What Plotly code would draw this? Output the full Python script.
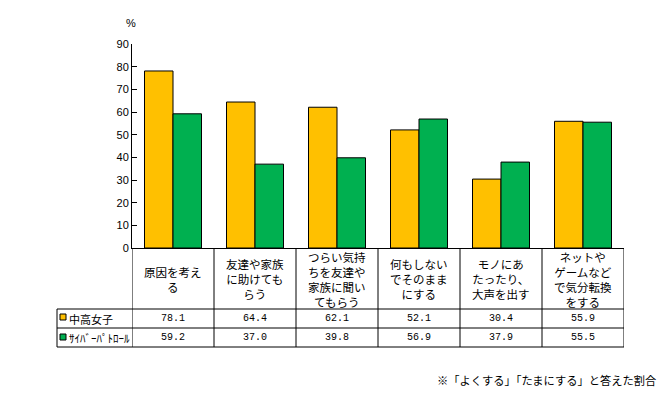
import plotly.graph_objects as go

# ---- data ----
categories = ["原因を考える", "友達や家族に助けてもらう", "つらい気持ちを友達や家族に聞いてもらう",
              "何もしないでそのままにする", "モノにあたったり、大声を出す", "ネットやゲームなどで気分転換をする"]
category_lines = [
    ["原因を考え", "る"],
    ["友達や家族", "に助けても", "らう"],
    ["つらい気持", "ちを友達や", "家族に聞い", "てもらう"],
    ["何もしない", "でそのまま", "にする"],
    ["モノにあ", "たったり、", "大声を出す"],
    ["ネットや", "ゲームなど", "で気分転換", "をする"],
]
series_names = ["中高女子", "ｻｲﾊﾞｰﾊﾟﾄﾛｰﾙ"]
values_girls = [78.1, 64.4, 62.1, 52.1, 30.4, 55.9]
values_patrol = [59.2, 37.0, 39.8, 56.9, 37.9, 55.5]
y_ticks = [0, 10, 20, 30, 40, 50, 60, 70, 80, 90]
footnote = "※「よくする」「たまにする」と答えた割合"
unit_label = "%"

colors = ["#FFC000", "#00B050"]

# ---- layout geometry (pixels) ----
W, H = 665, 396
L, R, T, B = 132, 624, 44, 248
PW, PH = R - L, B - T


def px(x):
    return (x - L) / PW


def py(y):
    return (B - y) / PH


JP = "Noto Sans CJK JP"
MONO = "Liberation Mono"

fig = go.Figure()
for name, vals, c in zip(series_names, [values_girls, values_patrol], colors):
    fig.add_trace(go.Bar(
        x=categories, y=vals, name=name,
        marker=dict(color=c, line=dict(color="black", width=1)),
        showlegend=False, hoverinfo="skip",
    ))

shapes = []
row_top, row1, row2, row3 = 248, 309, 328, 347
# column boundaries
for i in range(len(categories) + 1):
    shapes.append(dict(type="line", xref="x", yref="paper",
                       x0=i - 0.5, x1=i - 0.5, y0=py(row_top), y1=py(row3),
                       line=dict(color="black", width=1)))
# label column left border
shapes.append(dict(type="line", xref="paper", yref="paper",
                   x0=px(57), x1=px(57), y0=py(row1), y1=py(row3),
                   line=dict(color="black", width=1)))
# horizontal rows
for yy in (row1, row2, row3):
    shapes.append(dict(type="line", xref="paper", yref="paper",
                       x0=px(57), x1=px(R), y0=py(yy), y1=py(yy),
                       line=dict(color="black", width=1)))
# legend squares
for c, (y0, y1) in zip(colors, [(314, 320), (334, 340)]):
    shapes.append(dict(type="rect", xref="paper", yref="paper",
                       x0=px(60), x1=px(66), y0=py(y1), y1=py(y0),
                       fillcolor=c, line=dict(color="black", width=1)))

annotations = []
for cat, lines in zip(categories, category_lines):
    annotations.append(dict(x=cat, xref="x", y=py(279), yref="paper",
                            text="<br>".join(lines), showarrow=False,
                            xanchor="center", yanchor="middle", align="center",
                            font=dict(family=JP, size=11.5, color="black")))
for vals, yc in zip([values_girls, values_patrol], [318.5, 337.5]):
    for cat, v in zip(categories, vals):
        annotations.append(dict(x=cat, xref="x", y=py(yc), yref="paper",
                                text=f"{v:.1f}", showarrow=False,
                                xanchor="center", yanchor="middle",
                                font=dict(family=MONO, size=10, color="black")))
for name, yc in zip(series_names, [318.5, 337.5]):
    annotations.append(dict(x=px(67), xref="paper", y=py(yc), yref="paper",
                            text=name, showarrow=False,
                            xanchor="left", yanchor="middle",
                            font=dict(family=JP, size=11, color="black")))
annotations.append(dict(x=px(131), xref="paper", y=py(23), yref="paper",
                        text=unit_label, showarrow=False, xanchor="center", yanchor="middle",
                        font=dict(family="Liberation Sans", size=11, color="black")))
annotations.append(dict(x=px(658), xref="paper", y=py(380), yref="paper",
                        text=footnote, showarrow=False, xanchor="right", yanchor="middle",
                        font=dict(family=JP, size=11.25, color="black")))

fig.update_layout(
    width=W, height=H,
    margin=dict(l=L, r=W - R, t=T, b=H - B, pad=0),
    paper_bgcolor="white", plot_bgcolor="white",
    barmode="group", bargap=0.305, bargroupgap=0,
    shapes=shapes, annotations=annotations,
    xaxis=dict(type="category", range=[-0.5, len(categories) - 0.5],
               showticklabels=False, ticks="", showgrid=False, zeroline=False,
               showline=True, linecolor="black", linewidth=1),
    yaxis=dict(range=[0, 90], tickvals=y_ticks, ticks="inside", ticklen=5,
               tickcolor="black", showgrid=False, zeroline=False,
               showline=True, linecolor="black", linewidth=1,
               tickfont=dict(family="Liberation Sans", size=11, color="black")),
)

fig.write_html("out.html", config={"displayModeBar": False},
               post_script="document.body.style.margin='0';")
